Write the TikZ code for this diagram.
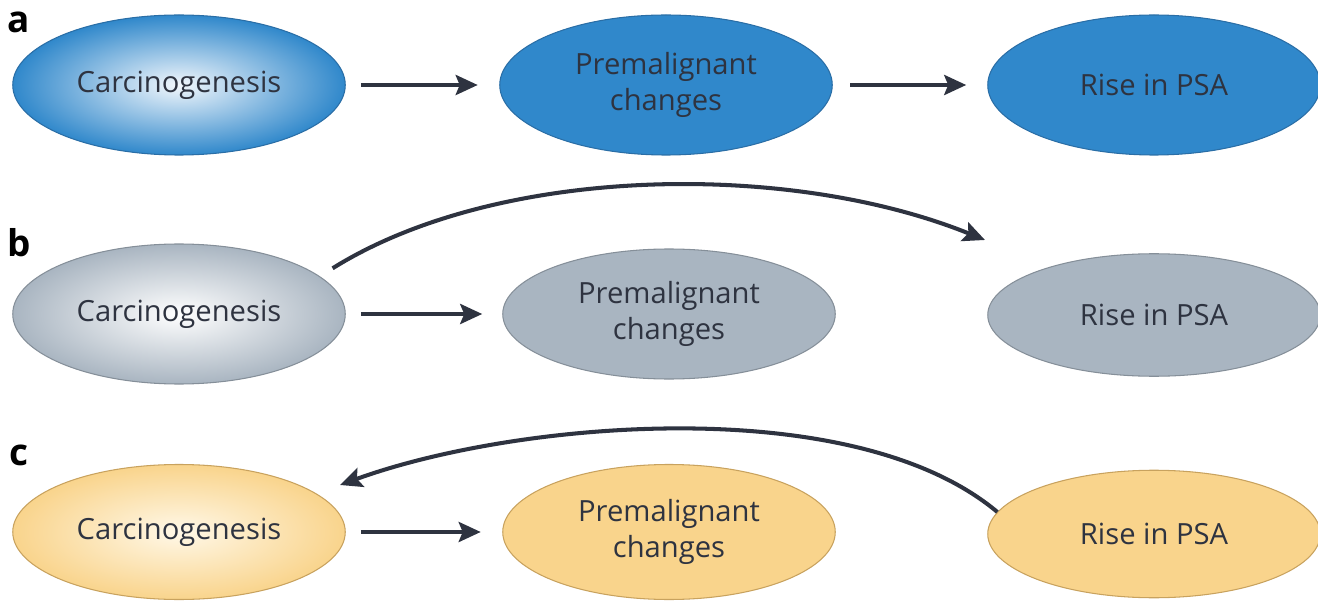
\documentclass[tikz,border=0pt]{standalone}
\usepackage{fontspec}
\setmainfont{Open Sans}
\usepackage{xcolor}
\usepackage{tikz}
\usetikzlibrary{arrows.meta,positioning,shapes.geometric}
\definecolor{pdark}{HTML}{2E3340}
\definecolor{pblue}{HTML}{3088CB}
\definecolor{pblueline}{HTML}{2A6EA6}
\definecolor{pbluelight}{HTML}{F2F7FC}
\definecolor{pgray}{HTML}{A9B5C1}
\definecolor{pgrayline}{HTML}{858F99}
\definecolor{pgraylight}{HTML}{FFFFFF}
\definecolor{pyellow}{HTML}{F9D48C}
\definecolor{pyellowline}{HTML}{C8A25E}
\definecolor{pyellowlight}{HTML}{FFF8E8}

\begin{document}
\begin{tikzpicture}[
    oval/.style={ellipse,minimum width=6.65cm,minimum height=2.8cm,inner sep=0pt,
      align=center,text=pdark,line width=0.6pt,
      font=\fontsize{16.6}{20.5}\selectfont},
    arr/.style={-{Stealth[length=0.44cm,width=0.4cm,inset=0.08cm]},pdark,line width=2.3pt},
    tag/.style={font=\fontsize{21}{24}\selectfont\bfseries,text=black,inner sep=0pt}]
  \useasboundingbox (0,0) rectangle (26.36,12.06);

  % Row a
  \node[tag] (la) at (0.38,11.62) {a};
  \node[oval,draw=pblueline,inner color=pbluelight,outer color=pblue] (ca) at (3.58,10.36) {Carcinogenesis};
  \node[oval,draw=pblueline,fill=pblue] (pa) at (13.32,10.36) {Premalignant\\changes};
  \node[oval,draw=pblueline,fill=pblue] (ra) at (23.08,10.36) {Rise in PSA};
  \draw[arr,shorten <=0.3cm,shorten >=0.43cm] (ca.east) -- (pa.west);
  \draw[arr,shorten <=0.35cm,shorten >=0.42cm] (pa.east) -- (ra.west);

  % Row b: straight to PSA
  \node[tag] (lb) at (0.38,7.2) {b};
  \node[oval,draw=pgrayline,inner color=pgraylight,outer color=pgray] (cb) at (3.58,5.78) {Carcinogenesis};
  \node[oval,draw=pgrayline,fill=pgray,minimum height=2.6cm] (pb) at (13.38,5.78) {Premalignant\\changes};
  \node[oval,draw=pgrayline,fill=pgray,minimum height=2.45cm] (rb) at (23.08,5.76) {Rise in PSA};
  \coordinate (tipb) at (19.7,7.26);
  \draw[arr,shorten <=0.3cm,shorten >=0.4cm] (cb.east) -- (pb.west);
  \draw[arr,shorten <=0.3cm] (cb.15) to[out=32,in=158,looseness=0.81] (tipb);

  % Row c: PSA rises first
  \node[tag] (lc) at (0.38,2.96) {c};
  \node[oval,draw=pyellowline,inner color=pyellowlight,outer color=pyellow,minimum height=2.7cm] (cc) at (3.58,1.42) {Carcinogenesis};
  \node[oval,draw=pyellowline,fill=pyellow,minimum height=2.7cm] (pc) at (13.38,1.42) {Premalignant\\changes};
  \node[oval,draw=pyellowline,fill=pyellow,minimum height=2.55cm] (rc) at (23.08,1.38) {Rise in PSA};
  \coordinate (tipc) at (6.8,2.36);
  \draw[arr,shorten <=0.3cm,shorten >=0.43cm] (cc.east) -- (pc.west);
  \draw[arr] (rc.172) to[out=140,in=20,looseness=0.73] (tipc);
\end{tikzpicture}
\end{document}
